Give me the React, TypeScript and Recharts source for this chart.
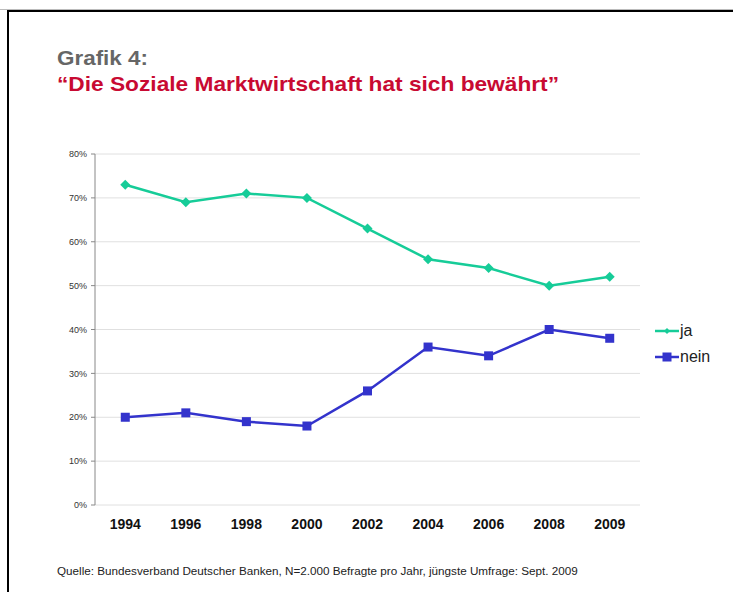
import { LineChart, Line, XAxis, YAxis, CartesianGrid, Legend } from 'recharts';

const years = ['1994', '1996', '1998', '2000', '2002', '2004', '2006', '2008', '2009'];
const ja = [73, 69, 71, 70, 63, 56, 54, 50, 52];
const nein = [20, 21, 19, 18, 26, 36, 34, 40, 38];
const yTicks = [0, 10, 20, 30, 40, 50, 60, 70, 80];
const bandTicks = [0, 1, 2, 3, 4, 5, 6, 7, 8, 9];

const JA_COLOR = '#16cc98';
const NEIN_COLOR = '#3333cc';
const FONT = '"Liberation Sans", Arial, sans-serif';

const chartData = years.map((year, i) => ({ year, ja: ja[i], nein: nein[i] }));

function Diamond(props: any) {
  const { cx, cy } = props;
  if (cx == null || cy == null) return null;
  return <polygon points={`${cx},${cy - 5} ${cx + 5},${cy} ${cx},${cy + 5} ${cx - 5},${cy}`} fill={JA_COLOR} />;
}

function Square(props: any) {
  const { cx, cy } = props;
  if (cx == null || cy == null) return null;
  return <rect x={cx - 4.5} y={cy - 4.5} width={9} height={9} fill={NEIN_COLOR} />;
}

function LegendContent(props: any) {
  const { payload } = props;
  return (
    <div style={{ fontFamily: FONT, fontSize: 16, color: '#222' }}>
      {payload.map((p: any) => (
        <div key={p.value} style={{ display: 'flex', alignItems: 'center', height: 26 }}>
          <svg width={24} height={12} style={{ marginRight: 1 }}>
            <line x1={0} y1={6} x2={24} y2={6} stroke={p.color} strokeWidth={2.5} />
            {p.value === 'ja' ? (
              <polygon points="12,3 15,6 12,9 9,6" fill={p.color} />
            ) : (
              <rect x={7.5} y={1.5} width={9} height={9} fill={p.color} />
            )}
          </svg>
          <span>{p.value}</span>
        </div>
      ))}
    </div>
  );
}

export default function App() {
  return (
    <div style={{ position: 'fixed', left: 0, top: 0, width: 733, height: 592, background: '#fff', overflow: 'hidden' }}>
      <div style={{ position: 'absolute', left: 0, top: 9, width: 733, height: 1, background: '#bbb' }} />
      <div style={{ position: 'absolute', left: 7, top: 10, width: 740, height: 600, borderLeft: '2px solid #000', borderTop: '2px solid #000' }} />
      <svg style={{ position: 'absolute', left: 0, top: 0 }} width={733} height={120}>
        <text x={57} y={65} fontFamily={FONT} fontWeight="bold" fontSize={21} fill="#666" textLength={91} lengthAdjust="spacingAndGlyphs">
          Grafik 4:
        </text>
        <text x={57} y={91} fontFamily={FONT} fontWeight="bold" fontSize={21} fill="#c80a32" textLength={502} lengthAdjust="spacingAndGlyphs">
          “Die Soziale Marktwirtschaft hat sich bewährt”
        </text>
      </svg>
      <div style={{ position: 'absolute', left: 0, top: 0 }}>
        <LineChart width={733} height={592} data={chartData} margin={{ top: 154, right: 93, bottom: 57, left: 55 }}>
          <CartesianGrid vertical={false} stroke="#e0e0e0" />
          <XAxis
            xAxisId="band"
            type="number"
            domain={[0, 9]}
            ticks={bandTicks}
            tickFormatter={() => ''}
            tick={{ fontSize: 1 }}
            height={0}
            stroke="#888"
            tickSize={5}
          />
          <XAxis
            xAxisId="cat"
            dataKey="year"
            scale="band"
            axisLine={false}
            tickLine={false}
            height={30}
            tickMargin={8}
            tick={{ fill: '#111', fontSize: 14, fontWeight: 'bold', fontFamily: FONT }}
          />
          <YAxis
            domain={[0, 80]}
            ticks={yTicks}
            tickFormatter={(v: number) => `${v}%`}
            width={40}
            stroke="#888"
            tickSize={4}
            tickMargin={4}
            tick={{ fill: '#333', fontSize: 9, fontFamily: FONT }}
          />
          <Legend
            layout="vertical"
            align="center"
            verticalAlign="middle"
            wrapperStyle={{ left: 655, top: 318, width: 80 }}
            content={<LegendContent />}
          />
          <Line
            xAxisId="cat"
            dataKey="ja"
            name="ja"
            stroke={JA_COLOR}
            strokeWidth={2.5}
            dot={<Diamond />}
            activeDot={false}
            isAnimationActive={false}
          />
          <Line
            xAxisId="cat"
            dataKey="nein"
            name="nein"
            stroke={NEIN_COLOR}
            strokeWidth={2.5}
            dot={<Square />}
            activeDot={false}
            isAnimationActive={false}
          />
        </LineChart>
      </div>
      <div style={{ position: 'absolute', left: 57, top: 564, fontFamily: FONT, fontSize: 11.7, color: '#222', whiteSpace: 'nowrap' }}>
        Quelle: Bundesverband Deutscher Banken, N=2.000 Befragte pro Jahr, jüngste Umfrage: Sept. 2009
      </div>
    </div>
  );
}
